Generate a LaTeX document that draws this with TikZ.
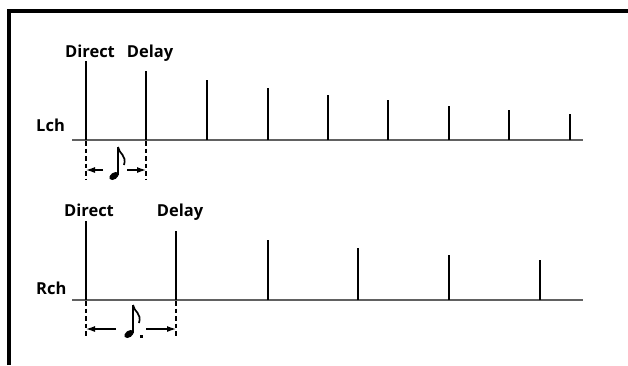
\documentclass[tikz,border=0pt]{standalone}
\usepackage{fontspec}
\setmainfont{Open Sans}
\usetikzlibrary{arrows.meta}
\tikzset{
  lbl/.style={font=\fontsize{16.5}{18}\selectfont\bfseries,inner sep=0pt},
  echo/.style={line width=1.8pt},
  direct/.style={line width=2.8pt},
  axis/.style={line width=1.8pt,draw=black!62},
  gap/.style={dash pattern=on 4.5pt off 3pt,line width=1.2pt},
  span/.style={-{Latex[length=9pt,width=6pt]},line width=1.2pt},
  quaver/.pic={
    \fill[rotate=35] (0,0) ellipse (5.2 and 3.3);
    \draw[line width=1.6pt] (4,-1) -- (4,-29);
    \draw[line width=1.7pt] (4,-29) .. controls (5,-22) and (13,-21) .. (10,-11);}
}

\begin{document}
\begin{tikzpicture}[x=1pt,y=-1pt]
  \useasboundingbox (0,0) rectangle (628,365);
  \draw[line width=3.2pt] (9,365) -- (9,11) -- (628,11);
  \begin{scope}
    \node[lbl,anchor=base west] (lch) at (36,131) {Lch};
    \node[lbl,anchor=base] (ldirect) at (90,57) {Direct};
    \node[lbl,anchor=base] (ldelay) at (150,57) {Delay};
    \draw[axis] (72,140) -- (583,140);
    \draw[direct] (86,140) -- (86,61);
    \foreach \x/\t in {146/71,207/80,268/88,328/95,388/100,449/106,509/110,570/114}
      \draw[echo] (\x,140) -- (\x,\t);
    \coordinate (la) at (86,141); \coordinate (lb) at (146,141);
    \draw[gap] (la) -- ++(0,39); \draw[gap] (lb) -- ++(0,39);
    \coordinate (laL) at (86,170); \coordinate (lbR) at (146,170);
    \coordinate (lnL) at (103,170); \coordinate (lnR) at (127,170);
    \draw[span] (lnL) -- (laL); \draw[span] (lnR) -- (lbR);
    \pic at (114,176) {quaver};
  \end{scope}
  \begin{scope}
    \node[lbl,anchor=base west] (rch) at (36,294) {Rch};
    \node[lbl,anchor=base] (rdirect) at (89,216) {Direct};
    \node[lbl,anchor=base] (rdelay) at (180,216) {Delay};
    \draw[axis] (72,300) -- (583,300);
    \draw[direct] (86,300) -- (86,221);
    \foreach \x/\t in {176/231,268/240,358/248,449/255,540/260}
      \draw[echo] (\x,300) -- (\x,\t);
    \coordinate (ra) at (86,301); \coordinate (rb) at (176,301);
    \draw[gap] (ra) -- ++(0,37); \draw[gap] (rb) -- ++(0,37);
    \coordinate (raL) at (86,329); \coordinate (rbR) at (176,329);
    \coordinate (rnL) at (116,329); \coordinate (rnR) at (146,329);
    \draw[span] (rnL) -- (raL); \draw[span] (rnR) -- (rbR);
    \pic at (129,334) {quaver};
    \fill (139.5,338) rectangle ++(3.5,-3.5);
  \end{scope}
\end{tikzpicture}
\end{document}
